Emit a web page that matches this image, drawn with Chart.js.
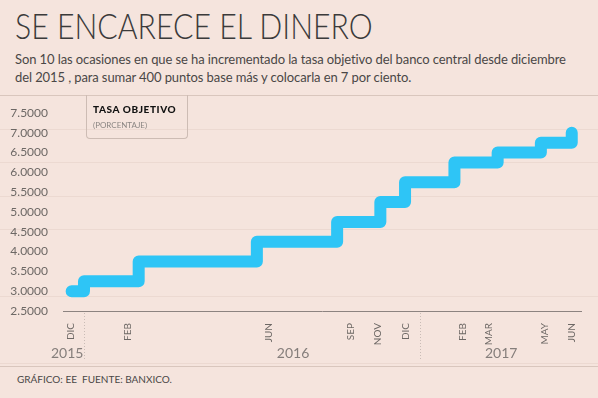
<!DOCTYPE html>
<html>
<head>
<meta charset="utf-8">
<script src="https://cdn.jsdelivr.net/npm/chart.js@4.4.1/dist/chart.umd.min.js"></script>
<style>
    body {
        margin: 0;
        width: 598px;
        height: 398px;
        overflow: hidden;
        background: #f5e4dd;
        font-family: Lato, "Open Sans", sans-serif;
        position: relative;
    }
    #title {
        position: absolute;
        left: 15px;
        top: 3px;
        font-size: 36px;
        font-weight: 300;
        color: #3b3a3a;
        white-space: nowrap;
        transform: scaleX(0.84);
        transform-origin: left top;
    }
    #subtitle {
        position: absolute;
        left: 15px;
        top: 50px;
        width: 590px;
        font-size: 13px;
        letter-spacing: -0.1px;
        line-height: 18px;
        color: #4a4746;
    }
    #band {
        position: absolute;
        left: 0;
        top: 95px;
        width: 598px;
        height: 270px;
        border-top: 1px solid #d9c6bd;
        border-bottom: 1px solid #d9c6bd;
        background-image: repeating-linear-gradient(to bottom, transparent 0px, transparent 32.5px, #ecd9d1 32.5px, #ecd9d1 33.5px);
    }
    #rateChart {
        position: absolute;
        left: 0;
        top: 90px;
    }
    #legendBox {
        position: absolute;
        left: 86px;
        top: 95px;
        width: 100px;
        height: 43px;
        border: 1.5px solid #cdbcb4;
        border-top: none;
        border-radius: 0 0 4px 4px;
    }
    #legendBox .name {
        position: absolute;
        left: 6px;
        top: 8px;
        font-size: 10px;
        font-weight: 900;
        letter-spacing: 0.6px;
        color: #111;
    }
    #legendBox .unit {
        position: absolute;
        left: 6px;
        top: 25px;
        font-size: 8px;
        color: #8b8683;
    }
    #footer {
        position: absolute;
        left: 17px;
        top: 373px;
        font-size: 10px;
        color: #4a4746;
    }
</style>
</head>
<body>
<div id="title">SE ENCARECE EL DINERO</div>
<div id="subtitle">Son 10 las ocasiones en que se ha incrementado la tasa objetivo del banco central desde diciembre<br>del 2015 , para sumar 400 puntos base más y colocarla en 7 por ciento.</div>
<div id="band"></div>
<canvas id="rateChart" width="598" height="280"></canvas>
<div id="legendBox"><div class="name">TASA OBJETIVO</div><div class="unit">(PORCENTAJE)</div></div>
<div id="footer">GRÁFICO: EE&nbsp; FUENTE: BANXICO.</div>

<script>
// x values are days counted from 1 Dec 2015
const rateDays = [2, 16, 78, 212, 303, 352, 380, 436, 485, 534, 569];
const rates = [3.00, 3.25, 3.75, 4.25, 4.75, 5.25, 5.75, 6.25, 6.50, 6.75, 7.00];

const monthLabels = ["DIC", "FEB", "JUN", "SEP", "NOV", "DIC", "FEB", "MAR", "MAY", "JUN"];
const monthDays = [1, 66, 225, 318, 349, 381, 445, 475, 539, 569];

const yearLabels = ["2015", "2016", "2017"];
const yearDays = [-3, 253, 489];
const yearBreaks = [16, 397];

const rateTicks = [2.5, 3, 3.5, 4, 4.5, 5, 5.5, 6, 6.5, 7, 7.5];

// years row under the month labels
const yearsPlugin = {
    id: "years",
    afterDraw(chart) {
        const ctx = chart.ctx;
        const xScale = chart.scales.x;
        ctx.save();
        ctx.strokeStyle = "#c9bcb6";
        ctx.lineWidth = 1;
        ctx.setLineDash([1, 2]);
        yearBreaks.forEach(d => {
            const x = Math.round(xScale.getPixelForValue(d)) + 0.5;
            ctx.beginPath();
            ctx.moveTo(x, chart.chartArea.bottom + 2);
            ctx.lineTo(x, chart.chartArea.bottom + 48);
            ctx.stroke();
        });
        ctx.fillStyle = "#857e7b";
        ctx.font = "14px Lato";
        ctx.textAlign = "center";
        ctx.textBaseline = "middle";
        yearLabels.forEach((label, i) => {
            ctx.fillText(label, xScale.getPixelForValue(yearDays[i]), chart.chartArea.bottom + 42);
        });
        ctx.restore();
    }
};

let rateCtx = document.getElementById("rateChart").getContext("2d");
let rateChart = new Chart(rateCtx, {
    type: "line",
    data: {
        datasets: [{
            data: rateDays.map((d, i) => ({ x: d, y: rates[i] })),
            stepped: "before",
            borderColor: "#2ec5f6",
            borderWidth: 12,
            borderCapStyle: "round",
            borderJoinStyle: "round",
            pointRadius: 0,
            fill: false
        }]
    },
    options: {
        responsive: false,
        animation: false,
        layout: {
            padding: { top: 23, right: 17, left: 0, bottom: 0 }
        },
        plugins: {
            legend: { display: false },
            tooltip: { enabled: false },
            title: { display: false }
        },
        scales: {
            x: {
                type: "linear",
                min: -7.8,
                max: 579.5,
                afterFit: scale => { scale.height = 59; },
                afterBuildTicks: scale => { scale.ticks = monthDays.map(v => ({ value: v })); },
                grid: { display: false },
                border: { display: true, color: "#8c8380", width: 1 },
                ticks: {
                    autoSkip: false,
                    minRotation: 90,
                    maxRotation: 90,
                    padding: 4,
                    color: "#6d6865",
                    font: { family: "Lato", size: 10 },
                    callback: (value, index) => monthLabels[index]
                }
            },
            y: {
                min: 2.5,
                max: 7.5,
                afterFit: scale => { scale.width = 63; },
                afterBuildTicks: scale => { scale.ticks = rateTicks.map(v => ({ value: v })); },
                grid: { display: false },
                border: { display: false },
                ticks: {
                    padding: 7,
                    color: "#6d6865",
                    font: { family: "Lato", size: 12 },
                    callback: value => Number(value).toFixed(4)
                }
            }
        }
    },
    plugins: [yearsPlugin]
});
</script>
</body>
</html>
